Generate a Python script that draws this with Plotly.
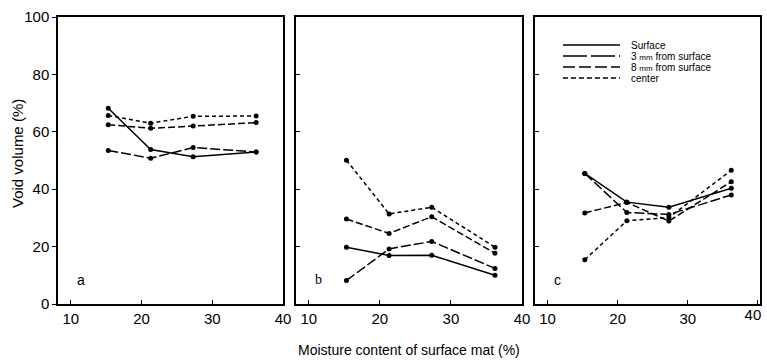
import plotly.graph_objects as go

# ---- data ----
moisture = [15.3, 21.3, 27.3, 36.2]
series_names = ["Surface", "3 <span style='font-size:8px'>mm</span> from surface",
                "8 <span style='font-size:8px'>mm</span> from surface", "center"]
panel_labels = ["a", "b", "c"]

a_surface = [68.2, 53.8, 51.3, 53.0]
a_3mm = [53.5, 50.8, 54.5, 53.0]
a_8mm = [62.5, 61.2, 62.0, 63.2]
a_center = [65.7, 63.0, 65.4, 65.5]

b_surface = [19.8, 16.9, 17.0, 10.0]
b_3mm = [8.2, 19.2, 21.8, 12.4]
b_8mm = [29.6, 24.6, 30.4, 17.7]
b_center = [50.1, 31.4, 33.7, 19.8]

c_surface = [45.5, 35.5, 33.7, 40.3]
c_3mm = [45.5, 31.9, 31.2, 38.0]
c_8mm = [31.7, 35.4, 28.9, 42.6]
c_center = [15.4, 29.0, 30.1, 46.6]

x_ticks = [10, 20, 30, 40]
y_ticks = [0, 20, 40, 60, 80, 100]

panels = [
    [a_surface, a_3mm, a_8mm, a_center],
    [b_surface, b_3mm, b_8mm, b_center],
    [c_surface, c_3mm, c_8mm, c_center],
]

# ---- styles ----
dashes = ["solid", "10px,3px", "7px,3px", "4px,3px"]
legend_dashes = ["solid", "24px,4px", "12px,4px", "5px,3px"]
W, H = 767, 360
FONT = "Liberation Sans, Arial, sans-serif"
NARROW = "Liberation Sans Narrow, Arial Narrow, Liberation Sans, sans-serif"


def px(x):
    return x / W


def py(y):
    return 1 - y / H


x_domains = [(px(58), px(283)), (px(296), px(522)), (px(535), px(760))]
x_ranges = [[8.2, 40], [8.2, 40], [8.2, 40.3]]
y_domain = (py(304), py(17))

fig = go.Figure()
for p, series in enumerate(panels):
    suffix = "" if p == 0 else str(p + 1)
    for s, vals in enumerate(series):
        fig.add_trace(go.Scatter(
            x=moisture, y=vals, mode="lines+markers",
            line=dict(color="black", width=1.5, dash=dashes[s]),
            marker=dict(color="black", size=5),
            xaxis="x" + suffix, yaxis="y" + suffix,
            showlegend=False, name=series_names[s],
        ))
# empty helper trace so the overlay axis for the last "40" label of panel c is drawn
fig.add_trace(go.Scatter(x=[], y=[], xaxis="x4", yaxis="y3", showlegend=False,
                         hoverinfo="skip"))

layout = dict(
    width=W, height=H,
    margin=dict(l=0, r=0, t=0, b=0, pad=0, autoexpand=False),
    paper_bgcolor="white", plot_bgcolor="white",
    font=dict(family=FONT, color="black"),
    showlegend=False,
)
for p in range(3):
    suffix = "" if p == 0 else str(p + 1)
    ticktext = [str(t) for t in x_ticks]
    if p == 2:
        ticktext[-1] = ""   # drawn by the overlay axis, nudged inside the window
    layout["xaxis" + suffix] = dict(
        domain=list(x_domains[p]), range=x_ranges[p], anchor="y" + suffix,
        tickvals=x_ticks, ticktext=ticktext,
        ticks="inside", ticklen=4, tickwidth=1, tickcolor="black",
        showline=True, mirror=True, linecolor="black", linewidth=1.5,
        showgrid=False, zeroline=False, automargin=False,
        ticklabeloverflow="allow",
        tickfont=dict(family=FONT, size=15),
    )
    layout["yaxis" + suffix] = dict(
        domain=list(y_domain), range=[0, 100], anchor="x" + suffix,
        tickvals=y_ticks, ticks="outside" if p == 0 else "inside",
        ticklen=4, tickwidth=1, tickcolor="black",
        showticklabels=(p == 0),
        showline=True, mirror=True, linecolor="black", linewidth=1.5,
        showgrid=False, zeroline=False, automargin=False,
        ticklabeloverflow="allow",
        tickfont=dict(family=NARROW, size=15),
    )
layout["xaxis4"] = dict(
    domain=list(x_domains[2]), range=x_ranges[2], anchor="y3", overlaying="x3",
    side="bottom", tickvals=[x_ticks[-1]], ticktext=[str(x_ticks[-1])],
    ticks="", showline=False, showgrid=False, zeroline=False, automargin=False,
    ticklabeloverflow="allow", ticklabelshift=-5,
    tickfont=dict(family=FONT, size=15),
)
fig.update_layout(**layout)

annotations = []
shapes = []
for p, lab in enumerate(panel_labels):
    suffix = "" if p == 0 else str(p + 1)
    annotations.append(dict(
        text=lab, x=0.1, y=0.085, xref="x" + suffix + " domain", yref="y" + suffix + " domain",
        showarrow=False, font=dict(size=14, family=FONT if lab != "b" else "Liberation Serif, serif"),
        xanchor="center", yanchor="middle",
    ))

# axis titles
annotations.append(dict(
    text="Moisture content of surface mat (%)", x=px(409), y=py(350),
    xref="paper", yref="paper", showarrow=False, font=dict(size=14, family=FONT),
    xanchor="center", yanchor="middle",
))
annotations.append(dict(
    text="Void volume (%)", x=px(17), y=py(154), textangle=-90,
    xref="paper", yref="paper", showarrow=False, font=dict(size=15, family=NARROW),
    xanchor="center", yanchor="middle",
))

# manual legend in panel c
legend_rows_px = [45, 56, 67, 78]
for s, name in enumerate(series_names):
    yr = py(legend_rows_px[s])
    shapes.append(dict(
        type="line", xref="paper", yref="paper",
        x0=px(563), x1=px(620), y0=yr, y1=yr,
        line=dict(color="black", width=1.5, dash=legend_dashes[s]),
    ))
    annotations.append(dict(
        text=name, x=px(629), y=yr, xref="paper", yref="paper",
        showarrow=False, xanchor="left", yanchor="middle",
        font=dict(size=10, family=FONT),
    ))

fig.update_layout(annotations=annotations, shapes=shapes)
fig.write_html(
    "out.html",
    config={"displayModeBar": False},
    post_script="document.body.style.margin='0';document.body.style.overflow='hidden';",
)
